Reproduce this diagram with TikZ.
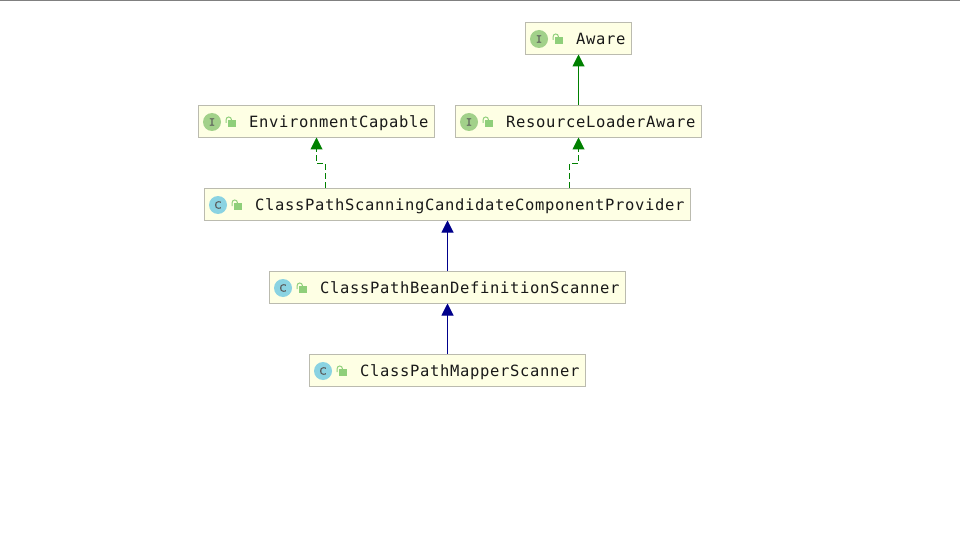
\documentclass[tikz,border=0pt]{standalone}
\usepackage{fontspec}
\setmonofont{DejaVu Sans Mono}
\newfontfamily\boxfont[LetterSpace=4.3]{DejaVu Sans Mono}
\newfontfamily\iconfont{DejaVu Sans Mono}[FakeBold=0.5]
\newfontfamily\classfont{DejaVu Sans}[FakeBold=0.5]
\usetikzlibrary{arrows.meta}
\definecolor{boxfill}{HTML}{FEFFE4}
\definecolor{boxline}{HTML}{BBBBAF}
\definecolor{ifacecol}{HTML}{A2D18A}
\definecolor{classcol}{HTML}{8AD3E2}
\definecolor{lockcol}{HTML}{8FCF7A}
\definecolor{realise}{HTML}{008000}
\definecolor{inherit}{HTML}{00008B}
\tikzset{
  x=1pt,y=-1pt,
  umlbox/.style={draw=boxline,fill=boxfill,line width=1pt,anchor=north west,inner sep=0pt,outer sep=0pt,minimum height=32pt},
  umllabel/.style={anchor=base west,inner sep=0pt,font=\boxfont\fontsize{15.5}{18}\selectfont,text=black!90},
  iface/.style={circle,fill=ifacecol,minimum size=18pt,inner sep=0pt,text=black!65,font=\iconfont\fontsize{10}{10}\selectfont},
  klass/.style={circle,fill=classcol,minimum size=18pt,inner sep=0pt,text=black!65,font=\classfont\fontsize{10}{10}\selectfont},
  solidgreen/.style={draw=realise,line width=1pt,-{Triangle[width=12pt,length=12pt,fill=realise]}},
  dashgreen/.style={draw=realise,line width=1pt,dash pattern=on 6pt off 3pt,-{Triangle[width=12pt,length=12pt,fill=realise]}},
  solidblue/.style={draw=inherit,line width=1pt,-{Triangle[width=12pt,length=12pt,fill=inherit]}},
  lockbody/.style={fill=lockcol,draw=none},
  lockarc/.style={draw=lockcol,line width=1pt}
}
\newcommand{\openlock}[2]{%
  \draw[lockarc] (#1-0.5,#2) -- (#1-0.5,#2-3) .. controls (#1-0.5,#2-7) and (#1+5,#2-7) .. (#1+5,#2-3);
  \fill[lockbody] (#1+1.5,#2-3) rectangle (#1+9.5,#2+4);
}
\begin{document}
\begin{tikzpicture}
\useasboundingbox (0,0) rectangle (960,540);
\fill[white] (0,0) rectangle (960,540);
\fill[black!50] (0,0) rectangle (960,1);
% boxes
\node[umlbox,minimum width=106pt] (aware) at (525.5,22.5) {};
\node[umlbox,minimum width=236pt] (env) at (198.5,105.5) {};
\node[umlbox,minimum width=246pt] (rla) at (455.5,105.5) {};
\node[umlbox,minimum width=486pt] (cps) at (204.5,188.5) {};
\node[umlbox,minimum width=356pt] (cpb) at (269.5,271.5) {};
\node[umlbox,minimum width=276pt] (cpm) at (309.5,354.5) {};
% icons
\node[iface] (iaware) at (539,39) {I};
\node[iface] (ienv) at (212,122) {I};
\node[iface] (irla) at (469,122) {I};
\node[klass] (icps) at (218,205) {C};
\node[klass] (icpb) at (283,288) {C};
\node[klass] (icpm) at (323,371) {C};
\openlock{553.5}{40}
\openlock{226.5}{123}
\openlock{483.5}{123}
\openlock{232.5}{206}
\openlock{297.5}{289}
\openlock{337.5}{372}
% labels
\node[umllabel] (taware) at (576,44.5) {Aware};
\node[umllabel] (tenv) at (249,127.5) {EnvironmentCapable};
\node[umllabel] (trla) at (506,127.5) {ResourceLoaderAware};
\node[umllabel] (tcps) at (255,210.5) {ClassPathScanningCandidateComponentProvider};
\node[umllabel] (tcpb) at (320,293.5) {ClassPathBeanDefinitionScanner};
\node[umllabel] (tcpm) at (360,376.5) {ClassPathMapperScanner};
% connector ends
\coordinate (ra) at (578.5,54.5);
\coordinate (rb) at (578.5,105);
\coordinate (ea) at (316.5,137.5);
\coordinate (eb) at (325.5,188);
\coordinate (la) at (578.5,137.5);
\coordinate (lb) at (569.5,188);
\coordinate (ca) at (447.5,220.5);
\coordinate (cb) at (447.5,271);
\coordinate (da) at (447.5,303.5);
\coordinate (db) at (447.5,354);
\draw[solidgreen] (rb) -- (ra);
\draw[dashgreen] (eb) -- (325.5,163.5) -- (316.5,163.5) -- (ea);
\draw[dashgreen] (lb) -- (569.5,163.5) -- (578.5,163.5) -- (la);
\draw[solidblue] (cb) -- (ca);
\draw[solidblue] (db) -- (da);
\end{tikzpicture}
\end{document}
